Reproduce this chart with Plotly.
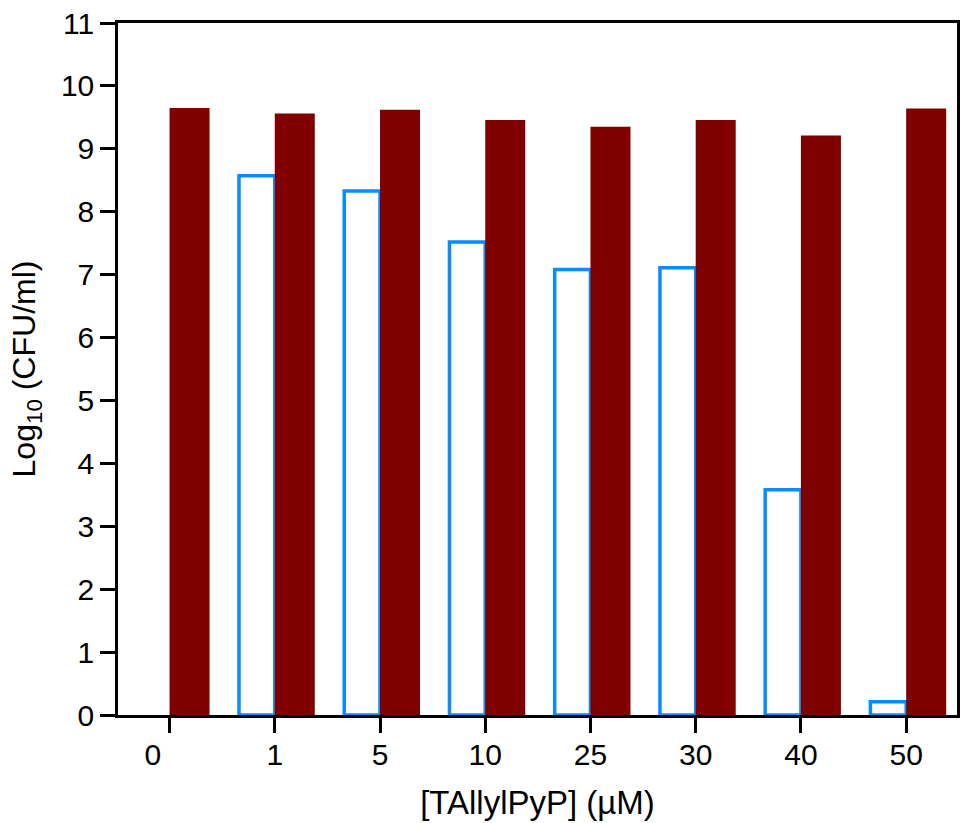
import plotly.graph_objects as go

# Data
concentrations = ["0", "1", "5", "10", "25", "30", "40", "50"]
tick_labels = ["0\u00a0\u00a0\u00a0\u00a0", "1", "5", "10", "25", "30", "40", "50"]
treated_log_cfu = [None, 8.57, 8.33, 7.52, 7.08, 7.11, 3.58, 0.21]
control_log_cfu = [9.65, 9.56, 9.62, 9.46, 9.35, 9.46, 9.21, 9.64]
y_ticks = list(range(0, 12))

BLUE = "#0a8cff"
RED = "#800000"
FONT = "Liberation Sans, Arial, sans-serif"

fig = go.Figure()
fig.add_trace(go.Bar(
    x=concentrations, y=treated_log_cfu,
    offset=-0.34, width=0.34,
    marker=dict(color="white", line=dict(color=BLUE, width=3.5)),
    showlegend=False,
))
fig.add_trace(go.Bar(
    x=concentrations, y=control_log_cfu,
    offset=0.0, width=0.38,
    marker=dict(color=RED, line=dict(width=0)),
    showlegend=False,
))

fig.update_layout(
    width=962, height=823,
    margin=dict(l=118, r=2, t=23, b=108),
    barmode="overlay",
    plot_bgcolor="white", paper_bgcolor="white",
    font=dict(family=FONT, size=30, color="black"),
    xaxis=dict(
        type="category",
        range=[-0.49, 7.483],
        tickmode="array", tickvals=concentrations, ticktext=tick_labels,
        ticks="outside", ticklen=15, tickwidth=2.5, tickcolor="black",
        ticklabelstandoff=-4,
        showline=True, linecolor="black", linewidth=2.5, mirror=True,
        showgrid=False, zeroline=False,
        tickfont=dict(family=FONT, size=30, color="black"),
        title=dict(text="[TAllylPyP] (\u00b5M)", font=dict(family=FONT, size=33, color="black"), standoff=22),
    ),
    yaxis=dict(
        range=[0, 11],
        tickmode="array", tickvals=y_ticks,
        ticks="outside", ticklen=15, tickwidth=2.5, tickcolor="black",
        showline=True, linecolor="black", linewidth=2.5, mirror=True,
        showgrid=False, zeroline=False,
        tickfont=dict(family=FONT, size=30, color="black"),
        title=dict(text="Log<sub>10</sub> (CFU/ml)", font=dict(family=FONT, size=32, color="black"), standoff=16),
    ),
)

fig.write_html("out.html")
